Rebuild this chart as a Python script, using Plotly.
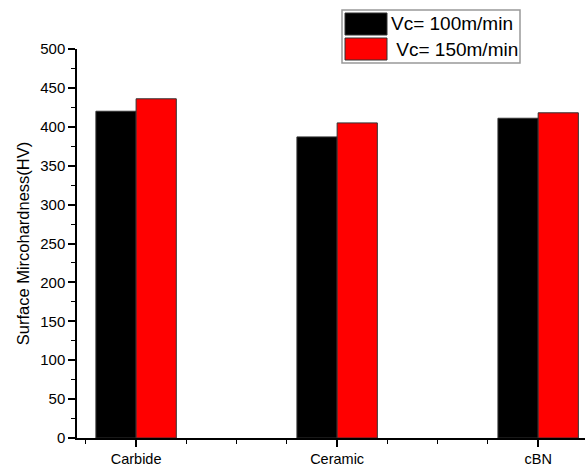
import plotly.graph_objects as go

categories = ["Carbide", "Ceramic", "cBN"]
series_names = ["Vc= 100m/min", " Vc= 150m/min"]
vc100 = [420, 387, 411]
vc150 = [436, 405, 418]
colors = ["#000000", "#ff0000"]
y_ticks = [0, 50, 100, 150, 200, 250, 300, 350, 400, 450, 500]

xpos = list(range(len(categories)))
fig = go.Figure()
for name, vals, col in zip(series_names, [vc100, vc150], colors):
    fig.add_trace(go.Bar(x=xpos, y=vals, name=name, marker=dict(color=col, line=dict(color="#333333", width=1)),
                         showlegend=False))

font = "Liberation Sans, Arial, sans-serif"
fig.update_layout(
    width=585, height=468,
    margin=dict(l=77, r=0, t=49, b=30),
    paper_bgcolor="white", plot_bgcolor="white",
    barmode="group", bargap=0.6, bargroupgap=0,
    font=dict(family=font, size=13, color="#000"),
    xaxis=dict(range=[-0.294, 2.233], tickvals=xpos, ticktext=categories, showgrid=False,
               showline=True, linecolor="#000", linewidth=1.5, ticks="outside", ticklen=7, tickwidth=1.5,
               tickcolor="#000", zeroline=False,
               minor=dict(dtick=0.25, tick0=0, ticks="outside", ticklen=4, tickwidth=1.2, tickcolor="#000"),
               tickfont=dict(size=14.5)),
    yaxis=dict(range=[0, 500], tickvals=y_ticks, showgrid=False, showline=True, linecolor="#000",
               linewidth=1.5, ticks="outside", ticklen=7, tickwidth=1.5, tickcolor="#000", zeroline=False,
               minor=dict(dtick=25, ticks="outside", ticklen=4, tickwidth=1.2, tickcolor="#000"),
               title=dict(text="Surface Mircohardness(HV)", font=dict(size=16.5), standoff=6),
               tickfont=dict(size=15)),
)

# custom legend
fig.add_shape(type="rect", xref="paper", yref="paper", x0=(342-77)/508, x1=(520-77)/508,
              y0=(468-30-63)/389, y1=(468-30-10)/389, line=dict(color="#999999", width=1.5), fillcolor="white")
for i, (name, col) in enumerate(zip(series_names, colors)):
    top = 13 + i * 25
    fig.add_shape(type="rect", xref="paper", yref="paper", x0=(345-77)/508, x1=(387-77)/508,
                  y0=(438-(top+22))/389, y1=(438-top)/389, fillcolor=col, line=dict(color="#333", width=1))
    fig.add_annotation(xref="paper", yref="paper", x=(389-77)/508, y=(438-(top+11))/389,
                       text=name.replace(" ", "&nbsp;", 1) if name.startswith(" ") else name,
                       showarrow=False, xanchor="left", yanchor="middle", font=dict(size=19, family=font))

fig.write_html("out.html")
